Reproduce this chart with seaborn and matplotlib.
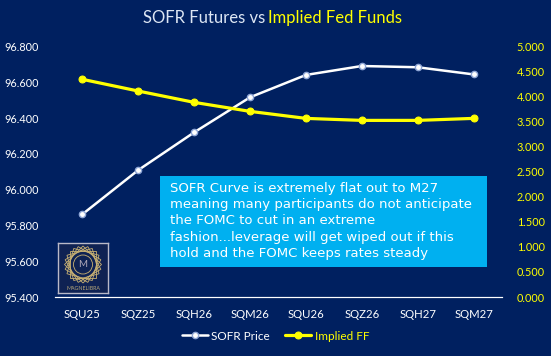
import numpy as np
import pandas as pd
import seaborn as sns
import matplotlib.pyplot as plt
from matplotlib.patches import Rectangle, Circle, Polygon

contracts = ['SQU25', 'SQZ25', 'SQH26', 'SQM26', 'SQU26', 'SQZ26', 'SQH27', 'SQM27']
sofr_price = [95.863, 96.110, 96.321, 96.517, 96.642, 96.692, 96.685, 96.645]
implied_ff = [4.348, 4.114, 3.888, 3.708, 3.568, 3.528, 3.528, 3.568]

left_ticks = [95.4, 95.6, 95.8, 96.0, 96.2, 96.4, 96.6, 96.8]
right_ticks = [0, 0.5, 1, 1.5, 2, 2.5, 3, 3.5, 4, 4.5, 5]

note = ("SOFR Curve is extremely flat out to M27\n"
        "meaning many participants do not anticipate\n"
        "the FOMC to cut in an extreme\n"
        "fashion...leverage will get wiped out if this\n"
        "hold and the FOMC keeps rates steady")

df = pd.DataFrame({'contract': contracts, 'sofr': sofr_price, 'ff': implied_ff})

bg = '#002060'
yellow = '#FFFF00'
W, H = 551, 356

sns.set_style('white')
plt.rcParams['font.family'] = ['Lato', 'DejaVu Sans']

fig = plt.figure(figsize=(W / 100, H / 100), dpi=100, facecolor=bg)
ax = fig.add_axes([54.5 / W, 1 - 297 / H, 447 / W, 250.3 / H], facecolor=bg)
ax2 = ax.twinx()

sns.lineplot(data=df, x='contract', y='sofr', ax=ax, color='white', lw=1.8,
             marker='o', markersize=4.5, markerfacecolor='white',
             markeredgecolor='#8fa6d6', markeredgewidth=1, label='SOFR Price', legend=False)
sns.lineplot(data=df, x='contract', y='ff', ax=ax2, color=yellow, lw=2.3,
             marker='o', markersize=5, markerfacecolor=yellow,
             markeredgecolor=yellow, label='Implied FF', legend=False)

ax.set_xlim(-0.5, len(contracts) - 0.5)
ax.set_ylim(95.4, 96.8)
ax2.set_ylim(0, 5)
ax.set_yticks(left_ticks)
ax.set_yticklabels([f'{v:.3f}' for v in left_ticks])
ax2.set_yticks(right_ticks)
ax2.set_yticklabels([f'{v:.3f}' for v in right_ticks])
ax.set_xlabel('')
ax.set_ylabel('')
ax2.set_ylabel('')

ax.tick_params(axis='x', colors='white', labelsize=8.2, length=0, pad=9)
ax.tick_params(axis='y', colors='white', labelsize=7.8, length=0, pad=11)
ax2.tick_params(axis='y', colors=yellow, labelsize=7.8, length=0, pad=11)
for a in (ax, ax2):
    for s in ['top', 'left', 'right']:
        a.spines[s].set_visible(False)
    a.spines['bottom'].set_color('white')
    a.spines['bottom'].set_linewidth(0.8)
    a.grid(False)

# title
fig.text(265 / W, 1 - 18 / H, 'SOFR Futures vs', color='#dde6f4', fontsize=12,
         ha='right', va='center')
fig.text(268 / W, 1 - 18 / H, 'Implied Fed Funds', color=yellow, fontsize=12,
         ha='left', va='center')

# note box
fig.patches.append(Rectangle((160 / W, 1 - 267 / H), 327 / W, 91 / H,
                             transform=fig.transFigure, facecolor='#00B0F0',
                             edgecolor='none', zorder=5))
fig.text(170 / W, 1 - 182 / H, note, color='white', fontsize=9.5,
         family='DejaVu Sans', ha='left', va='top', linespacing=1.32, zorder=6)

# logo
lg = fig.add_axes([58 / W, 1 - 293 / H, 50 / W, 50 / H])
lg.set_xlim(0, 1)
lg.set_ylim(0, 1)
lg.set_facecolor('#0f2253')
lg.set_xticks([])
lg.set_yticks([])
for s in lg.spines.values():
    s.set_color('#b9b9c8')
    s.set_linewidth(1)
gold = '#c9b173'
cx, cy, r = 0.5, 0.57, 0.37
for k in range(6):
    ang = np.deg2rad(k * 15) + np.arange(4) * np.pi / 2
    pts = np.c_[cx + r * np.cos(ang), cy + r * np.sin(ang)]
    lg.add_patch(Polygon(pts, closed=True, fill=False, edgecolor=gold, lw=0.6))
lg.add_patch(Circle((cx, cy), 0.19, fill=False, edgecolor=gold, lw=0.6))
lg.text(cx, cy, 'M', color='#b0a8b8', fontsize=7, ha='center', va='center')
lg.text(0.5, 0.08, 'MAGNELIBRA', color='#b8a87a', fontsize=3.8, ha='center', va='center')

# legend
h1, l1 = ax.get_legend_handles_labels()
h2, l2 = ax2.get_legend_handles_labels()
leg = fig.legend(h1 + h2, l1 + l2, loc='center', bbox_to_anchor=(0.5, 1 - 336 / H),
                 ncol=2, frameon=False, fontsize=8.5, handlelength=2.2,
                 handletextpad=0.3, columnspacing=1.3)
leg.get_texts()[0].set_color('white')
leg.get_texts()[1].set_color(yellow)

fig.savefig('out.png', dpi=100, facecolor=bg)
